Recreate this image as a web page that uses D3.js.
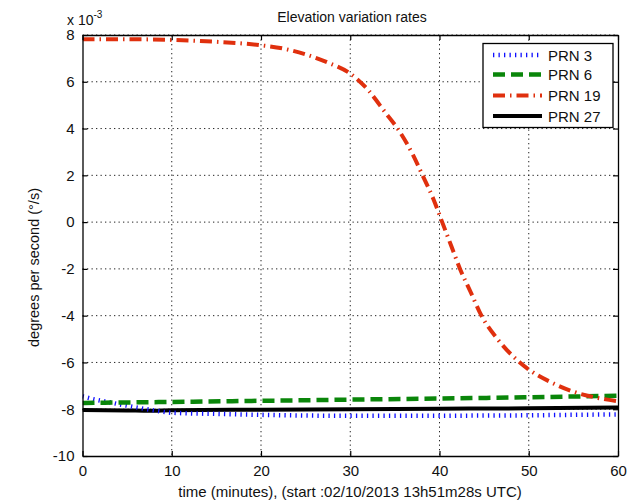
<!DOCTYPE html>
<html>
<head>
<meta charset="utf-8">
<script src="https://cdn.jsdelivr.net/npm/d3@7"></script>
<style>
  html, body { margin: 0; padding: 0; background: #fff; }
  svg { display: block; font-family: "Liberation Sans", Arial, Helvetica, sans-serif; }
</style>
</head>
<body>
<svg id="chart" width="628" height="501"></svg>
<script>
// ---------- data (values in units of 1e-3 deg/s, time in minutes) ----------
const titleText = "Elevation variation rates";
const xLabelText = "time (minutes), (start :02/10/2013 13h51m28s UTC)";
const yLabelText = "degrees per second (°/s)";
const xTicks = [0, 10, 20, 30, 40, 50, 60];
const yTicks = [-10, -8, -6, -4, -2, 0, 2, 4, 6, 8];
const seriesNames = ["PRN 3", "PRN 6", "PRN 19", "PRN 27"];

const prn3T = [0, 1, 2, 3, 4, 5, 6, 8, 10, 15, 20, 25, 30, 35, 40, 45, 50, 55, 60];
const prn3V = [-7.45, -7.55, -7.63, -7.7, -7.78, -7.85, -7.92, -8.05, -8.15, -8.2, -8.24, -8.27, -8.28, -8.28, -8.28, -8.27, -8.26, -8.24, -8.22];

const prn6T = [0, 10, 20, 30, 40, 50, 60];
const prn6V = [-7.73, -7.69, -7.64, -7.59, -7.54, -7.49, -7.42];

const prn19T = [0, 5, 10, 15, 20, 22.5, 25, 27.5, 30, 32, 34, 35.3, 37, 38.1, 39.3, 40.3, 41.3, 42.3, 43.5, 44.7, 46.5, 49, 50, 52.5, 55, 57.5, 60];
const prn19V = [7.82, 7.82, 7.79, 7.71, 7.56, 7.42, 7.17, 6.82, 6.35, 5.65, 4.65, 4.0, 2.9, 2.0, 1.0, 0.0, -1.0, -2.0, -3.0, -4.0, -5.0, -6.0, -6.3, -6.85, -7.25, -7.5, -7.66];

const prn27T = [0, 5, 7.5, 10, 20, 30, 40, 50, 60];
const prn27V = [-8.03, -8.05, -8.07, -8.04, -8.02, -8.0, -7.98, -7.96, -7.93];

// ---------- styles ----------
const styles = [
  { color: "#1010ff", width: 4.5, dash: "1.3,4.2" },
  { color: "#0a860a", width: 4.5, dash: "12,6" },
  { color: "#e0300e", width: 4,   dash: "12,5,1.5,5" },
  { color: "#000000", width: 4,   dash: null }
];

const svg = d3.select("#chart");
const L = 82.5, R = 618, T = 35, B = 456;

const x = d3.scaleLinear().domain([0, 60]).range([L, R]);
const y = d3.scaleLinear().domain([-10, 8]).range([B, T]);

// grid
const grid = svg.append("g");
grid.selectAll(".gx").data(xTicks.slice(1, -1)).enter().append("line")
  .attr("x1", d => x(d)).attr("x2", d => x(d)).attr("y1", T).attr("y2", B)
  .attr("stroke", "#222").attr("stroke-width", 1).attr("stroke-dasharray", "1.3,3.2");
grid.selectAll(".gy").data(yTicks.slice(1)).enter().append("line")
  .attr("x1", L).attr("x2", R).attr("y1", d => y(d)).attr("y2", d => y(d))
  .attr("stroke", "#222").attr("stroke-width", 1).attr("stroke-dasharray", "1.3,3.2");

// series
const series = [
  { t: prn3T, v: prn3V },
  { t: prn6T, v: prn6V },
  { t: prn19T, v: prn19V },
  { t: prn27T, v: prn27V }
];
const line = d3.line().x(d => x(d[0])).y(d => y(d[1])).curve(d3.curveMonotoneX);
const clip = svg.append("clipPath").attr("id", "clip").append("rect")
  .attr("x", L).attr("y", T).attr("width", R - L).attr("height", B - T);
const plot = svg.append("g").attr("clip-path", "url(#clip)");
[3, 0, 1, 2].forEach(i => {
  const s = series[i], st = styles[i];
  const pts = s.t.map((t, k) => [t, s.v[k]]);
  const p = plot.append("path").datum(pts).attr("d", line)
    .attr("fill", "none").attr("stroke", st.color).attr("stroke-width", st.width);
  if (st.dash) p.attr("stroke-dasharray", st.dash);
});

// axes (MATLAB style: inner ticks on all sides)
const tickLen = 5;
const axB = svg.append("g").attr("transform", `translate(0,${B})`)
  .call(d3.axisBottom(x).tickValues(xTicks).tickSizeInner(-tickLen).tickSizeOuter(0).tickPadding(9));
const axT = svg.append("g").attr("transform", `translate(0,${T})`)
  .call(d3.axisTop(x).tickValues(xTicks).tickSizeInner(-tickLen).tickSizeOuter(0).tickFormat(""));
const axL = svg.append("g").attr("transform", `translate(${L},0)`)
  .call(d3.axisLeft(y).tickValues(yTicks).tickSizeInner(-tickLen).tickSizeOuter(0).tickPadding(8)
    .tickFormat(d => d < 0 ? "-" + Math.abs(d) : String(d)));
const axR = svg.append("g").attr("transform", `translate(${R},0)`)
  .call(d3.axisRight(y).tickValues(yTicks).tickSizeInner(-tickLen).tickSizeOuter(0).tickFormat(""));
[axB, axT, axL, axR].forEach(a => {
  a.select(".domain").attr("stroke", "#000").attr("stroke-width", 1.3);
  a.selectAll(".tick line").attr("stroke", "#000").attr("stroke-width", 1.2);
  a.selectAll("text").attr("fill", "#111").style("font-size", "15px")
    .style("font-family", "'Liberation Sans', Arial, sans-serif");
});

// title & labels
svg.append("text").attr("x", 352).attr("y", 22).attr("text-anchor", "middle")
  .style("font-size", "14px").attr("fill", "#111").text(titleText);
svg.append("text").attr("x", 350).attr("y", 497).attr("text-anchor", "middle")
  .style("font-size", "15px").attr("fill", "#111").text(xLabelText);
svg.append("text").attr("transform", `translate(39,${(T + B) / 2 + 22}) rotate(-90)`)
  .attr("text-anchor", "middle").style("font-size", "14.5px").attr("fill", "#111").text(yLabelText);

// exponent label
const ex = svg.append("text").attr("x", 67).attr("y", 25).style("font-size", "14px").attr("fill", "#111");
ex.append("tspan").text("x 10");
ex.append("tspan").attr("dy", -7).style("font-size", "10px").text("-3");

// legend
const lg = svg.append("g");
lg.append("rect").attr("x", 483).attr("y", 43.5).attr("width", 130).attr("height", 84)
  .attr("fill", "#fff").attr("stroke", "#000").attr("stroke-width", 1.3);
const legY = [55, 74.5, 95.5, 116];
seriesNames.forEach((n, i) => {
  const st = styles[i];
  const l = lg.append("line").attr("x1", 493).attr("x2", 542).attr("y1", legY[i]).attr("y2", legY[i])
    .attr("stroke", st.color).attr("stroke-width", st.width);
  if (st.dash) l.attr("stroke-dasharray", st.dash);
  lg.append("text").attr("x", 548).attr("y", legY[i] + 5.5).style("font-size", "15px")
    .attr("fill", "#111").text(n);
});
</script>
</body>
</html>
